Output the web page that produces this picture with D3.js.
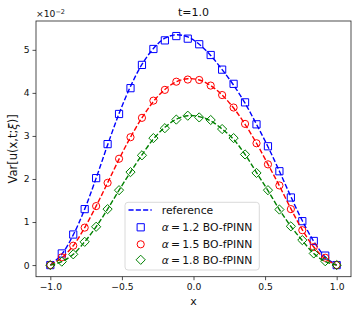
<!DOCTYPE html>
<html>
<head>
<meta charset="utf-8">
<script src="https://cdn.jsdelivr.net/npm/d3@7"></script>
<style>
  body { margin: 0; background: #fff; }
  svg { display: block; font-family: "DejaVu Sans", sans-serif; }
</style>
</head>
<body>
<div id="chart"></div>
<script>
// x grid shared by every series
const xs = [-1.0, -0.92, -0.84, -0.76, -0.68, -0.60, -0.52, -0.44, -0.36, -0.28, -0.20, -0.12, -0.04,
            0.04, 0.12, 0.20, 0.28, 0.36, 0.44, 0.52, 0.60, 0.68, 0.76, 0.84, 0.92, 1.0];

// values in units of 1e-2
const ref12 = [0, 0.25, 0.70, 1.30, 2.02, 2.79, 3.52, 4.15, 4.66, 5.03, 5.27, 5.35, 5.30,
               5.13, 4.87, 4.54, 4.18, 3.76, 3.27, 2.75, 2.18, 1.59, 1.03, 0.55, 0.19, 0];
const ref15 = [0, 0.17, 0.45, 0.87, 1.37, 1.91, 2.46, 2.97, 3.42, 3.80, 4.08, 4.26, 4.33,
               4.30, 4.17, 3.95, 3.65, 3.27, 2.83, 2.34, 1.84, 1.31, 0.82, 0.42, 0.15, 0];
const ref18 = [0, 0.08, 0.25, 0.54, 0.89, 1.30, 1.74, 2.16, 2.56, 2.93, 3.20, 3.39, 3.47,
               3.45, 3.35, 3.16, 2.92, 2.57, 2.15, 1.73, 1.29, 0.90, 0.57, 0.27, 0.08, 0];

const bo12 = [0, 0.27, 0.71, 1.30, 2.02, 2.81, 3.51, 4.11, 4.65, 5.02, 5.22, 5.32, 5.26,
              5.13, 4.88, 4.54, 4.21, 3.78, 3.27, 2.76, 2.18, 1.57, 1.02, 0.56, 0.22, 0];
const bo15 = [0, 0.18, 0.45, 0.87, 1.37, 1.91, 2.47, 2.97, 3.42, 3.82, 4.07, 4.26, 4.31,
              4.30, 4.17, 3.95, 3.66, 3.28, 2.83, 2.34, 1.85, 1.30, 0.81, 0.42, 0.17, 0];
const bo18 = [0, 0.08, 0.25, 0.54, 0.89, 1.30, 1.74, 2.16, 2.55, 2.95, 3.18, 3.38, 3.47,
              3.43, 3.37, 3.16, 2.95, 2.57, 2.14, 1.74, 1.29, 0.90, 0.58, 0.27, 0.09, 0];

const alphas = ["1.2", "1.5", "1.8"];
const colors = ["#0000ff", "#ff0000", "#008000"];
const markers = ["square", "circle", "diamond"];
const xTicks = [-1.0, -0.5, 0.0, 0.5, 1.0];
const yTicks = [0, 1, 2, 3, 4, 5];

const W = 357, H = 314;
const mLeft = 36, mRight = 351, mTop = 21, mBottom = 276.7;

const svg = d3.select("#chart").append("svg")
  .attr("width", W).attr("height", H);

const x = d3.scaleLinear().domain([-1.1, 1.1]).range([mLeft, mRight]);
const y = d3.scaleLinear().domain([-0.27, 5.67]).range([mBottom, mTop]);

function markerPath(kind, cx, cy) {
  if (kind === "square") {
    const s = 3.6;
    return `M${cx - s},${cy - s}h${2 * s}v${2 * s}h${-2 * s}Z`;
  }
  if (kind === "circle") {
    const r = 3.6;
    return `M${cx + r},${cy}A${r},${r} 0 1,1 ${cx - r},${cy}A${r},${r} 0 1,1 ${cx + r},${cy}Z`;
  }
  const d = 4.6;
  return `M${cx},${cy - d}L${cx + d},${cy}L${cx},${cy + d}L${cx - d},${cy}Z`;
}

const line = d3.line()
  .x((d, i) => x(xs[i]))
  .y(d => y(d))
  .curve(d3.curveCatmullRom);

const refs = [ref12, ref15, ref18];
const bos = [bo12, bo15, bo18];

const plot = svg.append("g");
refs.forEach(function(r, k) {
  plot.append("path")
    .datum(r)
    .attr("fill", "none")
    .attr("stroke", colors[k])
    .attr("stroke-width", 1.4)
    .attr("stroke-dasharray", "5.1,2.2")
    .attr("d", line);

  plot.append("g")
    .selectAll("path")
    .data(bos[k])
    .join("path")
      .attr("d", (d, i) => markerPath(markers[k], x(xs[i]), y(d)))
      .attr("fill", "none")
      .attr("stroke", colors[k])
      .attr("stroke-width", 1);
});

// axes
const xAxis = svg.append("g")
  .attr("transform", `translate(0,${mBottom})`)
  .call(d3.axisBottom(x).tickValues(xTicks).tickFormat(d3.format(".1f")).tickSize(3.5).tickPadding(3));
const yAxis = svg.append("g")
  .attr("transform", `translate(${mLeft},0)`)
  .call(d3.axisLeft(y).tickValues(yTicks).tickFormat(d3.format("d")).tickSize(3.5).tickPadding(3));

[xAxis, yAxis].forEach(function(a) {
  a.select(".domain").remove();
  a.selectAll(".tick line").attr("stroke", "#222").attr("stroke-width", 0.8);
  a.selectAll(".tick text").attr("font-size", 9.2).attr("fill", "#111")
    .attr("font-family", "DejaVu Sans");
});

svg.append("rect")
  .attr("x", mLeft).attr("y", mTop)
  .attr("width", mRight - mLeft).attr("height", mBottom - mTop)
  .attr("fill", "none")
  .attr("stroke", "#222")
  .attr("stroke-width", 0.8);

// offset text
const off = svg.append("text")
  .attr("x", mLeft).attr("y", 17)
  .attr("font-size", 9.2).attr("fill", "#111");
off.append("tspan").text("\u00d710");
off.append("tspan").attr("dy", -3.5).attr("font-size", 6.5).text("\u22122");

// title
svg.append("text")
  .attr("x", (mLeft + mRight) / 2).attr("y", 16)
  .attr("text-anchor", "middle")
  .attr("font-size", 11).attr("fill", "#111")
  .text("t=1.0");

// axis labels
svg.append("text")
  .attr("x", (mLeft + mRight) / 2).attr("y", 305)
  .attr("text-anchor", "middle")
  .attr("font-size", 11).attr("fill", "#111")
  .text("x");

const yl = svg.append("text")
  .attr("transform", `translate(17,${(mTop + mBottom) / 2}) rotate(-90)`)
  .attr("text-anchor", "middle")
  .attr("font-size", 11.5).attr("fill", "#111");
yl.append("tspan").text("Var[u(x,t;");
yl.append("tspan").attr("font-style", "italic").text("\u03be");
yl.append("tspan").text(")]");

// legend
const lg = svg.append("g");
lg.append("rect")
  .attr("x", 125).attr("y", 202.3)
  .attr("width", 134.3).attr("height", 67.7)
  .attr("rx", 3)
  .attr("fill", "#fff").attr("fill-opacity", 0.8)
  .attr("stroke", "#d0d0d0").attr("stroke-width", 0.8);

lg.append("line")
  .attr("x1", 128.5).attr("x2", 151.7)
  .attr("y1", 210).attr("y2", 210)
  .attr("stroke", colors[0]).attr("stroke-width", 1.4)
  .attr("stroke-dasharray", "5.1,2.2");
lg.append("text")
  .attr("x", 161.7).attr("y", 213.8)
  .attr("font-size", 10.8).attr("fill", "#111")
  .text("reference");

const legY = [227.3, 244.3, 259.8];
alphas.forEach(function(a, k) {
  lg.append("path")
    .attr("d", markerPath(markers[k], 140.7, legY[k]))
    .attr("fill", "none").attr("stroke", colors[k]).attr("stroke-width", 1);
  const t = lg.append("text")
    .attr("x", 161.7).attr("y", legY[k] + 3.8)
    .attr("font-size", 10.8).attr("fill", "#111");
  t.append("tspan").attr("font-style", "italic").text("\u03b1");
  t.append("tspan").text("\u2009=\u2009" + a + " BO-fPINN");
});
</script>
</body>
</html>
